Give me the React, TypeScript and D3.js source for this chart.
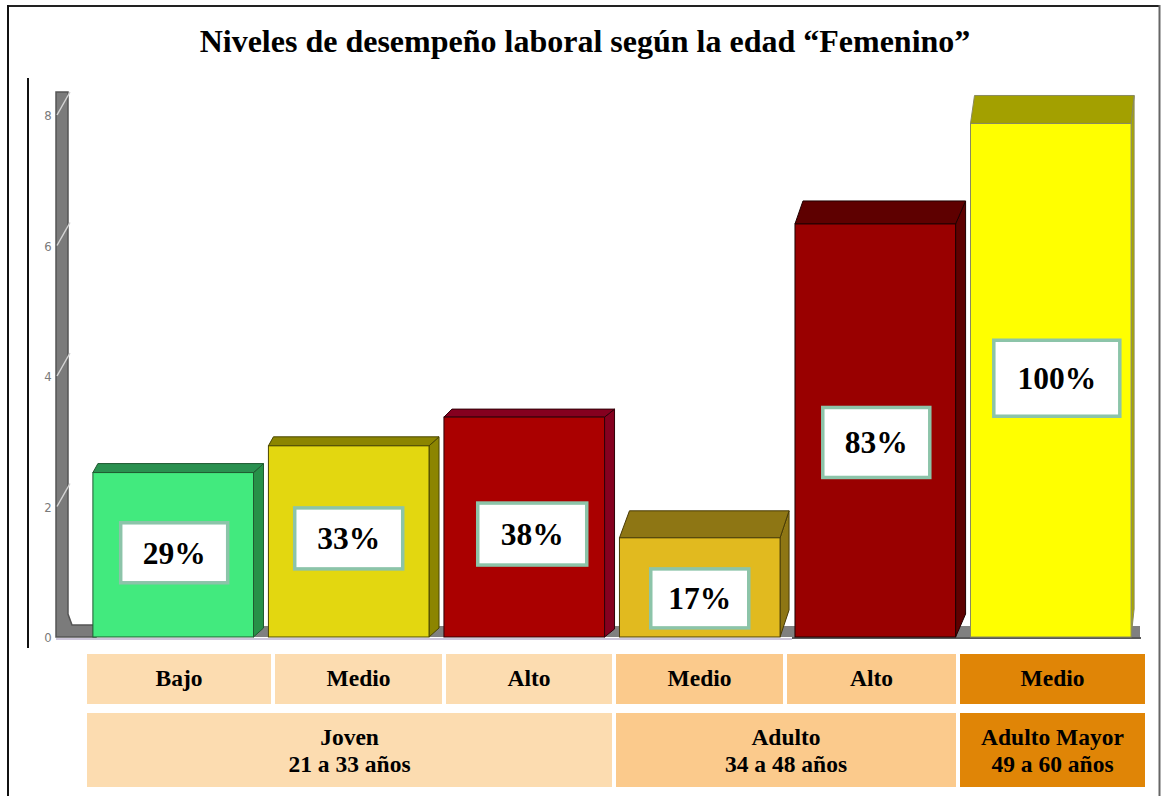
import React from 'react';
import * as d3 from 'd3';

// ---------- data ----------
const levels = ['Bajo', 'Medio', 'Alto', 'Medio', 'Alto', 'Medio'];
const values = [2.52, 2.93, 3.37, 1.52, 6.33, 7.87];
const percentLabels = ['29%', '33%', '38%', '17%', '83%', '100%'];
const groupNames = ['Joven', 'Adulto', 'Adulto Mayor'];
const groupRanges = ['21 a 33 años', '34 a 48 años', '49 a 60 años'];
const groupSpans = [3, 2, 1];
const yTicks = [0, 2, 4, 6, 8];
const title = 'Niveles de desempeño laboral según la edad “Femenino”';

// ---------- styles ----------
const W = 1161;
const H = 796;
const SERIF = '"Liberation Serif", "Times New Roman", serif';
const barFront = ['#42ea7e', '#e3d710', '#aa0000', '#e1ba1f', '#990000', '#ffff00'];
const barTop = ['#2a9150', '#8c8500', '#85001f', '#8e7614', '#5e0000', '#a3a000'];
const barSide = ['#279048', '#8c8500', '#85001f', '#8e7614', '#5e0000', '#a8a800'];
const barStroke = ['#1f5a30', '#4a4600', '#300008', '#4a3c06', '#200000', '#8a8a60'];
const depthL = [5, 5, 8, 10, 8, 4];
const depthR = [10, 10, 10, 9, 10, 3];
const depthY = [9, 9, 8, 27, 23, 28];
const boxW = [107, 108, 109, 98, 107, 126];
const boxH = [60, 61, 62, 59, 70, 76];
const boxDx = [1, 0, 8, 0, 1, 6];
const boxDy = [-2, -3, 7, 11, 12, -2];
const groupFill = ['#fcdcb0', '#fbca8c', '#e08506'];
const tableEdges = [87, 273, 444, 614, 785, 958, 1145];

export default function App() {
  const y = d3.scaleLinear().domain([0, 8]).range([637, 115]);
  const x = d3
    .scaleBand<number>()
    .domain(d3.range(levels.length))
    .range([85, 1139])
    .paddingInner(0.085)
    .paddingOuter(0.045);
  const y0 = y(0);

  const cellLeft = (i: number) => (i === 0 ? tableEdges[0] : tableEdges[i] + 2);
  const cellRight = (i: number) =>
    i === tableEdges.length - 2 ? tableEdges[tableEdges.length - 1] : tableEdges[i + 1] - 2;

  let gStart = 0;
  const groupCells = groupNames.map((name, gi) => {
    const s = gStart;
    const e = gStart + groupSpans[gi] - 1;
    gStart += groupSpans[gi];
    return { name, range: groupRanges[gi], x0: cellLeft(s), x1: cellRight(e), gi };
  });
  const levelGroup: number[] = [];
  groupSpans.forEach((n, gi) => {
    for (let k = 0; k < n; k++) levelGroup.push(gi);
  });

  return (
    <svg
      width={W}
      height={H}
      style={{ position: 'absolute', left: 0, top: 0, background: '#fff' }}
    >
      <rect x={0} y={0} width={W} height={H} fill="#fff" />
      {/* frame */}
      <line x1={8} y1={6} x2={1160} y2={6} stroke="#222" strokeWidth={2} />
      <line x1={8} y1={5} x2={8} y2={H} stroke="#111" strokeWidth={2} />
      <line x1={1159.5} y1={5} x2={1159.5} y2={H} stroke="#666" strokeWidth={2} />
      <line x1={28} y1={78} x2={28} y2={648} stroke="#111" strokeWidth={2} />

      {/* title */}
      <text x={585} y={52} textAnchor="middle" fontFamily={SERIF} fontWeight="bold" fontSize={32}>
        {title}
      </text>

      {/* floor strip */}
      <rect x={56} y={626} width={1084} height={11} fill="#808080" />
      {/* wall */}
      <path
        d={`M56,92 L68,92 L68,614 L72,625 L96,625 L96,${y0} L56,${y0} Z`}
        fill="#7b7b7b"
        stroke="#555"
        strokeWidth={1.5}
      />
      {yTicks
        .filter((t) => t > 0)
        .map((t) => (
          <line
            key={'tl' + t}
            x1={57}
            y1={y(t)}
            x2={70}
            y2={y(t) - 23}
            stroke="#d4d4d4"
            strokeWidth={1.5}
          />
        ))}
      {yTicks.map((t) => (
        <text
          key={'tt' + t}
          x={48}
          y={y(t) + 5}
          textAnchor="middle"
          fontFamily='"DejaVu Sans Condensed", "Liberation Sans Narrow", Arial, sans-serif'
          fontSize={13}
          fill="#7a7a7a"
        >
          {t}
        </text>
      ))}

      {/* floor front line */}
      <line x1={56} y1={639} x2={792} y2={639} stroke="#cdc6da" strokeWidth={2} />
      <line x1={792} y1={638} x2={1141} y2={638} stroke="#222" strokeWidth={1.5} />

      {/* bars */}
      {values.map((v, i) => {
        const x0 = x(i)!;
        const x1 = x0 + x.bandwidth();
        const yt = y(v);
        const dl = depthL[i];
        const dr = depthR[i];
        const dy = depthY[i];
        const top = `M${x0},${yt} L${x0 + dl},${yt - dy} L${x1 + dr},${yt - dy} L${x1},${yt} Z`;
        const side = `M${x1},${yt} L${x1 + dr},${yt - dy} L${x1 + dr},${y0 - dy} L${x1},${y0} Z`;
        return (
          <g key={'b' + i}>
            <path d={side} fill={barSide[i]} stroke={barStroke[i]} strokeWidth={1} />
            <path d={top} fill={barTop[i]} stroke={barStroke[i]} strokeWidth={1} />
            <rect
              x={x0}
              y={yt}
              width={x1 - x0}
              height={y0 - yt}
              fill={barFront[i]}
              stroke={barStroke[i]}
              strokeWidth={1}
            />
          </g>
        );
      })}

      {/* value boxes */}
      {values.map((v, i) => {
        const cx = x(i)! + x.bandwidth() / 2 + boxDx[i];
        const cy = (y(v) + y0) / 2 + boxDy[i];
        return (
          <g key={'l' + i}>
            <rect
              x={cx - boxW[i] / 2}
              y={cy - boxH[i] / 2}
              width={boxW[i]}
              height={boxH[i]}
              fill="#fff"
              stroke="#8cc4a9"
              strokeWidth={3.5}
            />
            <text
              x={cx}
              y={cy + 11}
              textAnchor="middle"
              fontFamily={SERIF}
              fontWeight="bold"
              fontSize={31.5}
              fill="#000"
            >
              {percentLabels[i]}
            </text>
          </g>
        );
      })}

      {/* table row 1: levels */}
      {levels.map((lv, i) => {
        const a = cellLeft(i);
        const b = cellRight(i);
        return (
          <g key={'c' + i}>
            <rect x={a} y={654} width={b - a} height={50} fill={groupFill[levelGroup[i]]} />
            <text
              x={(a + b) / 2}
              y={686}
              textAnchor="middle"
              fontFamily={SERIF}
              fontWeight="bold"
              fontSize={23.5}
            >
              {lv}
            </text>
          </g>
        );
      })}

      {/* table row 2: groups */}
      {groupCells.map((g) => (
        <g key={'g' + g.gi}>
          <rect x={g.x0} y={713} width={g.x1 - g.x0} height={74} fill={groupFill[g.gi]} />
          <text
            x={(g.x0 + g.x1) / 2}
            y={745}
            textAnchor="middle"
            fontFamily={SERIF}
            fontWeight="bold"
            fontSize={23.5}
          >
            {g.name}
          </text>
          <text
            x={(g.x0 + g.x1) / 2}
            y={772}
            textAnchor="middle"
            fontFamily={SERIF}
            fontWeight="bold"
            fontSize={23.5}
          >
            {g.range}
          </text>
        </g>
      ))}
    </svg>
  );
}
